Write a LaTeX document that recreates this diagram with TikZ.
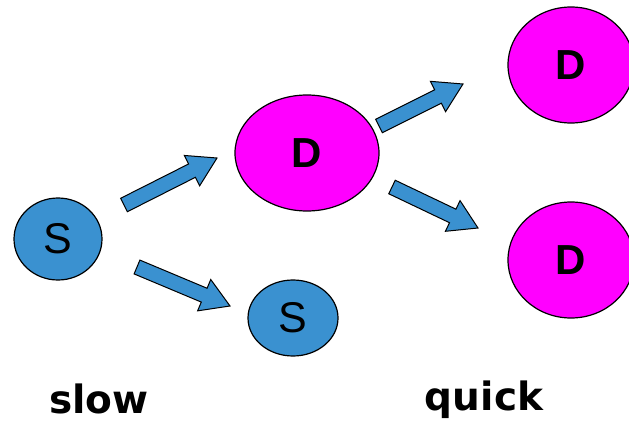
\documentclass[tikz,border=0pt]{standalone}
\usepackage{fontspec}
\setmainfont{Liberation Sans}
\newfontfamily\labfont{DejaVu Sans}
\usetikzlibrary{calc,shapes.geometric}
\definecolor{sblue}{RGB}{58,145,208}
\definecolor{dmag}{RGB}{255,0,255}
\tikzset{
  snode/.style={ellipse, draw=black, line width=1.2pt, fill=sblue, inner sep=0pt,
    font=\fontsize{43}{43}\selectfont},
  dnode/.style={ellipse, draw=black, line width=1.2pt, fill=dmag, inner sep=0pt,
    font=\bfseries\fontsize{42}{42}\selectfont},
  barrowstyle/.style={draw=black, line width=1pt, fill=sblue, line join=miter},
  lab/.style={anchor=base, inner sep=1pt, text depth=0pt, font=\labfont\bfseries\fontsize{39}{39}\selectfont}
}
% #1 name, #2 tail, #3 tip
\newcommand\barrow[3]{%
  \coordinate (#1b) at ($(#3)!28pt!(#2)$);
  \draw[barrowstyle]
    ($(#2)!7.5pt!90:(#3)$) -- ($(#1b)!7.5pt!90:(#3)$) -- ($(#1b)!17pt!90:(#3)$)
    -- (#3) -- ($(#1b)!17pt!-90:(#3)$) -- ($(#1b)!7.5pt!-90:(#3)$)
    -- ($(#2)!7.5pt!-90:(#3)$) -- cycle;
}
\begin{document}
\begin{tikzpicture}[x=1pt,y=-1pt]
\useasboundingbox (0,0) rectangle (629,423);
\node[snode, minimum width=88pt, minimum height=82pt] (s1) at (58,239) {S};
\node[snode, minimum width=90pt, minimum height=76pt] (s2) at (293,318) {S};
\node[dnode, minimum width=144pt, minimum height=116pt] (d1) at (307,153) {D};
\node[dnode, minimum width=126pt, minimum height=116pt] (d2) at (571,65) {D};
\node[dnode, minimum width=126pt, minimum height=116pt] (d3) at (571,260) {D};

\coordinate (a1s) at (124,205); \coordinate (a1t) at (217,158);
\coordinate (a2s) at (379,126); \coordinate (a2t) at (463,84);
\coordinate (a3s) at (392,187); \coordinate (a3t) at (478,228);
\coordinate (a4s) at (137,267); \coordinate (a4t) at (230,306);
\barrow{a1}{a1s}{a1t}
\barrow{a2}{a2s}{a2t}
\barrow{a3}{a3s}{a3t}
\barrow{a4}{a4s}{a4t}

\node[lab] (slow) at (99,413) {slow};
\node[lab] (quick) at (484,410) {quick};
\end{tikzpicture}
\end{document}
